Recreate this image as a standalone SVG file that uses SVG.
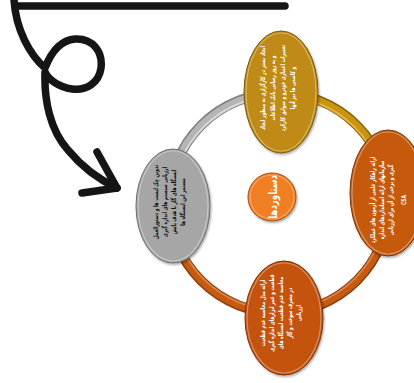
<svg xmlns="http://www.w3.org/2000/svg" width="414" height="383" viewBox="0 0 414 383">
<defs>
<style>
.ink{fill:none;stroke:#151515;stroke-width:7.5;stroke-linecap:round;stroke-linejoin:round}
.tube-o{fill:none;stroke-width:10}
.tube-m{fill:none;stroke-width:7}
.tube-h{fill:none;stroke-width:2;opacity:.7}
.t{font-family:"DejaVu Sans",sans-serif;font-weight:bold;font-size:6.5px;text-anchor:middle;fill:#fff}
.tk{fill:#111}
.hl{fill:none;stroke:#fff;stroke-opacity:.35;stroke-width:1.2}
</style>
<filter id="sh" x="-20%" y="-20%" width="140%" height="140%">
<feDropShadow dx="1" dy="1.5" stdDeviation="1.2" flood-color="#000" flood-opacity="0.35"/>
</filter>
</defs>

<g id="scribble-arrow">
<line class="ink" x1="18" y1="6" x2="285" y2="6"/>
<path class="ink" d="M14,0 C16,30 30,55 45,68 C52,50 62,40 75,39 C93,38 103,52 101,68 C99,83 86,91 72,89 C58,87 48,79 45,72 C44,100 50,130 68,150 C82,167 100,180 117,188"/>
<path class="ink" d="M97,152 L117,188 L82,193"/>
</g>

<g id="connectors">
<path class="tube-o" stroke="#7d7d7d" d="M169,203 A110,110 0 0 1 279,93"/>
<path class="tube-m" stroke="#b5b5b5" d="M169,203 A110,110 0 0 1 279,93"/>
<path class="tube-h" stroke="#ececec" d="M172,203 A107,107 0 0 1 279,96"/>
<path class="tube-o" stroke="#8a6407" d="M279,93 A110,110 0 0 1 389,203"/>
<path class="tube-m" stroke="#c99410" d="M279,93 A110,110 0 0 1 389,203"/>
<path class="tube-h" stroke="#f0c65a" d="M279,96 A107,107 0 0 1 386,203"/>
<path class="tube-o" stroke="#8a3a08" d="M389,203 A110,110 0 0 1 279,313"/>
<path class="tube-m" stroke="#c55a11" d="M389,203 A110,110 0 0 1 279,313"/>
<path class="tube-h" stroke="#ea9358" d="M386,203 A107,107 0 0 1 279,310"/>
<path class="tube-o" stroke="#8a3a08" d="M279,313 A110,110 0 0 1 169,203"/>
<path class="tube-m" stroke="#c55a11" d="M279,313 A110,110 0 0 1 169,203"/>
<path class="tube-h" stroke="#ea9358" d="M279,310 A107,107 0 0 1 172,203"/>
</g>

<g id="node-top">
<ellipse cx="281" cy="92" rx="37" ry="61" fill="#bf8a12" stroke="#7a5806" stroke-width="1" filter="url(#sh)"/>
<ellipse class="hl" cx="281" cy="92" rx="35" ry="59"/>
<g transform="translate(281,88) rotate(-90) scale(0.68,1)">
<text class="t" x="0" y="-16">ایجاد بستر در کارگزاری به منظور ایجاد</text>
<text class="t" x="0" y="-6">و به روز رسانی بانک اطلاعات</text>
<text class="t" x="0" y="4">تعمیرات اعتباری خودرو و سوابق کارکرد</text>
<text class="t" x="0" y="14">و کاستی ها نیز آنها</text>
</g>
</g>

<g id="node-right">
<ellipse cx="388" cy="193" rx="38" ry="63" fill="#c55a11" stroke="#7d3506" stroke-width="1" filter="url(#sh)"/>
<ellipse class="hl" cx="388" cy="193" rx="36" ry="61"/>
<g transform="translate(389,200) rotate(-90) scale(0.68,1)">
<text class="t" x="0" y="-14">ارائه راهکار علمی از آزمون های عملکرد</text>
<text class="t" x="0" y="-5">سازمانهای ارائه استانداردهای اندازه</text>
<text class="t" x="0" y="4">گیری و برخی از آن برای ارزیابی</text>
<text class="t" x="0" y="17">CSA</text>
</g>
</g>

<g id="node-bottom">
<ellipse cx="284" cy="318" rx="39" ry="57" fill="#c4520f" stroke="#7d3506" stroke-width="1" filter="url(#sh)"/>
<ellipse class="hl" cx="284" cy="318" rx="37" ry="55"/>
<g transform="translate(283,313) rotate(-90) scale(0.68,1)">
<text class="t" x="0" y="-18">ارائه مدل محاسبه عدم قطعیت</text>
<text class="t" x="0" y="-9">قطعیت و عمر ابزارهای اندازه گیری</text>
<text class="t" x="0" y="0">محاسبه عدم قطعیت ایستگاه های</text>
<text class="t" x="0" y="9">در مصرف سوخت و گاز</text>
<text class="t" x="0" y="18">ارزیابی</text>
</g>
</g>

<g id="node-left">
<ellipse cx="173" cy="206" rx="37" ry="57" fill="#a6a6a6" stroke="#6e6e6e" stroke-width="1" filter="url(#sh)"/>
<ellipse class="hl" cx="173" cy="206" rx="35" ry="55"/>
<g transform="translate(172,202) rotate(-90) scale(0.68,1)">
<text class="t tk" x="0" y="-14">تدوین چک لیست ها و دستورالعمل</text>
<text class="t tk" x="0" y="-5">ارزیابی سیستم های اندازه گیری</text>
<text class="t tk" x="0" y="4">ایستگاه های گاز با هدف پایش</text>
<text class="t tk" x="0" y="13">مستمر این ایستگاه ها</text>
</g>
</g>

<g id="node-center">
<circle cx="272" cy="197" r="24" fill="#f07e22" stroke="#a8520d" stroke-width="1" filter="url(#sh)"/>
<circle class="hl" cx="272" cy="197" r="22"/>
<g transform="translate(272,197) rotate(-90) scale(0.75,1)">
<text x="0" y="4.5" text-anchor="middle" font-family="DejaVu Sans, sans-serif" font-weight="bold" font-size="11.5" fill="#fff">دستاوردها</text>
</g>
</g>
</svg>
